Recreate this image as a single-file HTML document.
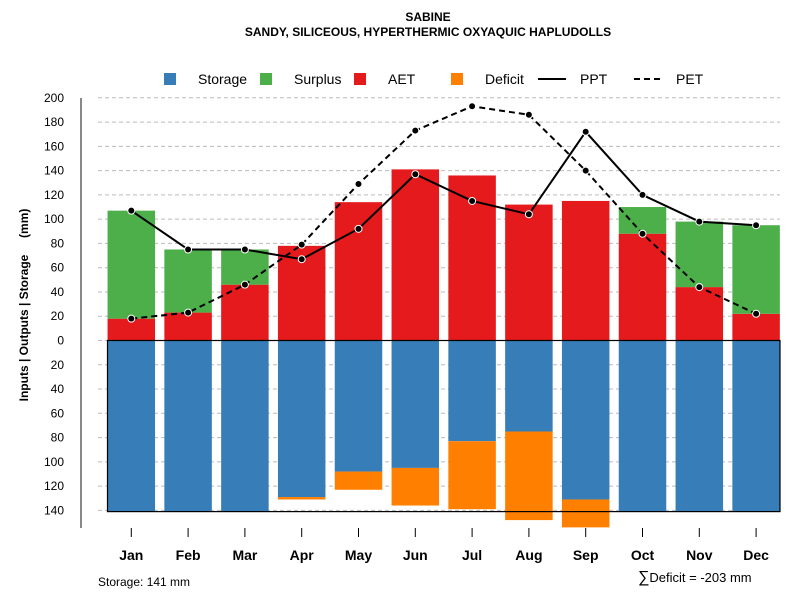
<!DOCTYPE html>
<html><head><meta charset="utf-8"><style>
body{margin:0;background:#fff;font-family:"Liberation Sans",sans-serif}
svg text{font-family:"Liberation Sans",sans-serif}
</style></head><body>
<svg id="c" width="800" height="600" viewBox="0 0 800 600">
<text x="428" y="21" text-anchor="middle" font-size="12" font-weight="bold">SABINE</text>
<text x="428" y="36" text-anchor="middle" font-size="12" font-weight="bold">SANDY, SILICEOUS, HYPERTHERMIC OXYAQUIC HAPLUDOLLS</text>
<g id="legend"></g>
<g id="grid"></g>
<g id="bars"></g>
<g id="lines"></g>
<g id="axes"></g>
<text transform="translate(28,305) rotate(-90)" text-anchor="middle" font-size="12" font-weight="bold" xml:space="preserve" style="white-space:pre">Inputs | Outputs | Storage     (mm)</text>
<text x="98" y="586" font-size="12">Storage: 141 mm</text>
<text x="638" y="582" font-size="13"><tspan font-size="16">∑</tspan>Deficit = -203 mm</text>
</svg>
<script>
const months=["Jan","Feb","Mar","Apr","May","Jun","Jul","Aug","Sep","Oct","Nov","Dec"];
const ppt=[107,75,75,67,92,137,115,104,172,120,98,95];
const pet=[18,23,46,79,129,173,193,186,140,88,44,22];
const aet=[18,23,46,78,114,141,136,112,115,88,44,22];
const surplus=[89,52,29,0,0,0,0,0,0,22,54,73];
const storage=[141,141,141,129,108,105,83,75,131,141,141,141];
const deficit=[0,0,0,2,15,31,56,73,23,0,0,0];
const yTicksPos=[0,20,40,60,80,100,120,140,160,180,200];
const yTicksNeg=[20,40,60,80,100,120,140];
const NS="http://www.w3.org/2000/svg";
function y(v){return 340.5-v*1.2135;}
function x(i){return 131.3+i*56.8;}
const bw=47.5;
function mk(tag,attrs,parent){const e=document.createElementNS(NS,tag);for(const k in attrs)e.setAttribute(k,attrs[k]);document.getElementById(parent).appendChild(e);return e;}
yTicksPos.concat(yTicksNeg.map(v=>-v)).forEach(v=>{
 const g=mk('line',{x1:98,x2:780,y1:y(v),y2:y(v),stroke:'#bbb','stroke-dasharray':'4,3'},'grid');
 
 
});
months.forEach((m,i)=>{
 const x0=x(i)-bw/2;
 let r=mk('rect',{x:x0,y:y(aet[i]),width:bw,height:y(0)-y(aet[i]),fill:'#E41A1C'},'bars');
 
 
 if(surplus[i]>0){r=mk('rect',{x:x0,y:y(aet[i]+surplus[i]),width:bw,height:surplus[i]*1.2135,fill:'#4DAF4A'},'bars');
 
 }
 r=mk('rect',{x:x0,y:y(0),width:bw,height:storage[i]*1.2135,fill:'#377EB8'},'bars');
 
 
 if(deficit[i]>0){r=mk('rect',{x:x0,y:y(-storage[i]),width:bw,height:deficit[i]*1.2135,fill:'#FF7F00'},'bars');
 
 }
});
let bx=mk('rect',{x:107.5,y:y(0),width:672.5,height:141*1.2135,fill:'none',stroke:'#000','stroke-width':1.2},'bars');


function series(arr,name,dash){
 const pts=arr.map((v,i)=>x(i)+','+y(v)).join(' ');
 const p=mk('polyline',{points:pts,fill:'none',stroke:'#000','stroke-width':2,'stroke-dasharray':dash},'lines');
 
 
 arr.forEach((v,i)=>{const c=mk('circle',{cx:x(i),cy:y(v),r:3.5,fill:'#000',stroke:'#fff','stroke-width':1},'lines');
 
 });
}
series(pet,'pet','6,4');
series(ppt,'ppt','none');
let ax=mk('line',{x1:81,x2:81,y1:98,y2:528,stroke:'#888','stroke-width':2},'axes');


yTicksPos.concat(yTicksNeg.map(v=>-v)).forEach(v=>{
 const t=mk('text',{x:64,y:y(v)+4,'text-anchor':'end','font-size':12},'axes');
 t.textContent=Math.abs(v);
 
 
});
months.forEach((m,i)=>{
 const tk=mk('line',{x1:x(i),x2:x(i),y1:528,y2:537,stroke:'#000'},'axes');
 
 
 const t=mk('text',{x:x(i),y:560,'text-anchor':'middle','font-size':14,'font-weight':'bold'},'axes');
 t.textContent=m;
 
 
});
const legItems=[["Storage","#377EB8","sq",198],["Surplus","#4DAF4A","sq",294],["AET","#E41A1C","sq",388],["Deficit","#FF7F00","sq",485],["PPT","#000","line",580],["PET","#000","dash",676]];
legItems.forEach(l=>{
 if(l[2]=="sq"){const s=mk('rect',{x:l[3]-34,y:73,width:12,height:12,fill:l[1]},'legend');
  
  }
 else{const s=mk('line',{x1:l[3]-42,x2:l[3]-14,y1:79,y2:79,stroke:'#000','stroke-width':2,'stroke-dasharray':l[2]=="dash"?'6,4':'none'},'legend');
  
  }
 const t=mk('text',{x:l[3],y:84,'font-size':14},'legend');
 t.textContent=l[0];
 
 
});
</script>
</body></html>
